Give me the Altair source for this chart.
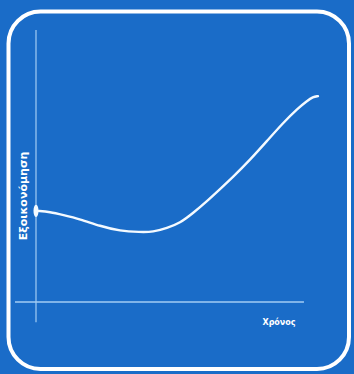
import altair as alt
import pandas as pd

# Savings over time: a shallow dip, then steady growth
time = [0.05, 0.5, 0.96, 1.57, 2.29, 3.0, 3.71, 4.18, 4.68, 5.14, 5.61,
        6.11, 6.57, 7.04, 7.64, 8.25, 8.82, 9.36, 9.68, 9.89, 10.07]
savings = [3.35, 3.31, 3.20, 3.05, 2.79, 2.61, 2.57, 2.57, 2.72, 2.90, 3.27,
           3.71, 4.15, 4.60, 5.22, 5.92, 6.58, 7.13, 7.39, 7.54, 7.57]

start_time = [0.0]
start_savings = [3.35]

# Axis line extents, in data units
x_axis_span = [-0.75, 9.57]
y_axis_span = [-0.74, 10.0]

x_title = "Χρόνος"
y_title = "Εξοικονόμηση"

BG = "#1a6cc8"
AXIS = "#a3cdf4"
CURVE = "#f4faff"

W, H = 354, 374
xs = alt.Scale(domain=[0, 10], range=[36, 316], nice=False, zero=False)
ys = alt.Scale(domain=[0, 10], range=[302, 30], nice=False, zero=False)

curve_df = pd.DataFrame({"t": time, "s": savings})
start_df = pd.DataFrame({"t": start_time, "s": start_savings})
xaxis_df = pd.DataFrame({"x": [x_axis_span[0]], "x2": [x_axis_span[1]], "y": [0.0]})
yaxis_df = pd.DataFrame({"y": [y_axis_span[0]], "y2": [y_axis_span[1]], "x": [0.0]})

frame = alt.Chart(pd.DataFrame({"k": [0]})).mark_rect(
    filled=False, stroke="white", strokeWidth=4, cornerRadius=32
).encode(x=alt.value(8.5), x2=alt.value(349), y=alt.value(11.5), y2=alt.value(369))

x_line = alt.Chart(xaxis_df).mark_rule(color=AXIS, strokeWidth=1.5).encode(
    x=alt.X("x:Q", scale=xs, axis=None),
    x2="x2:Q",
    y=alt.Y("y:Q", scale=ys, axis=None),
)

y_line = alt.Chart(yaxis_df).mark_rule(color=AXIS, strokeWidth=1.2).encode(
    y=alt.Y("y:Q", scale=ys, axis=None),
    y2="y2:Q",
    x=alt.X("x:Q", scale=xs, axis=None),
)

curve = alt.Chart(curve_df).mark_line(
    color=CURVE, strokeWidth=2.4, interpolate="basis", strokeCap="round"
).encode(
    x=alt.X("t:Q", scale=xs, axis=None),
    y=alt.Y("s:Q", scale=ys, axis=None),
)

# Oval cap at the start of the curve
start = alt.Chart(start_df).mark_point(
    shape="M0,-1C0.55,-1 0.55,1 0,1C-0.55,1 -0.55,-1 0,-1Z",
    filled=True, color=CURVE, opacity=1, size=150,
).encode(
    x=alt.X("t:Q", scale=xs, axis=None),
    y=alt.Y("s:Q", scale=ys, axis=None),
)

y_label = alt.Chart(pd.DataFrame({"label": [y_title]})).mark_text(
    angle=270, font="DejaVu Sans", fontSize=11, fontWeight="bold", color="white"
).encode(text="label:N", x=alt.value(24), y=alt.value(196))

x_label = alt.Chart(pd.DataFrame({"label": [x_title]})).mark_text(
    font="DejaVu Sans", fontSize=8, fontWeight="bold", color="white"
).encode(text="label:N", x=alt.value(279), y=alt.value(323))

chart = alt.layer(frame, x_line, y_line, curve, start, y_label, x_label).properties(
    width=W, height=H, background=BG, padding=0,
    autosize=alt.AutoSizeParams(type="none"),
).configure_view(stroke=None)

chart.save("out.html", embed_options={"renderer": "svg", "actions": False})
